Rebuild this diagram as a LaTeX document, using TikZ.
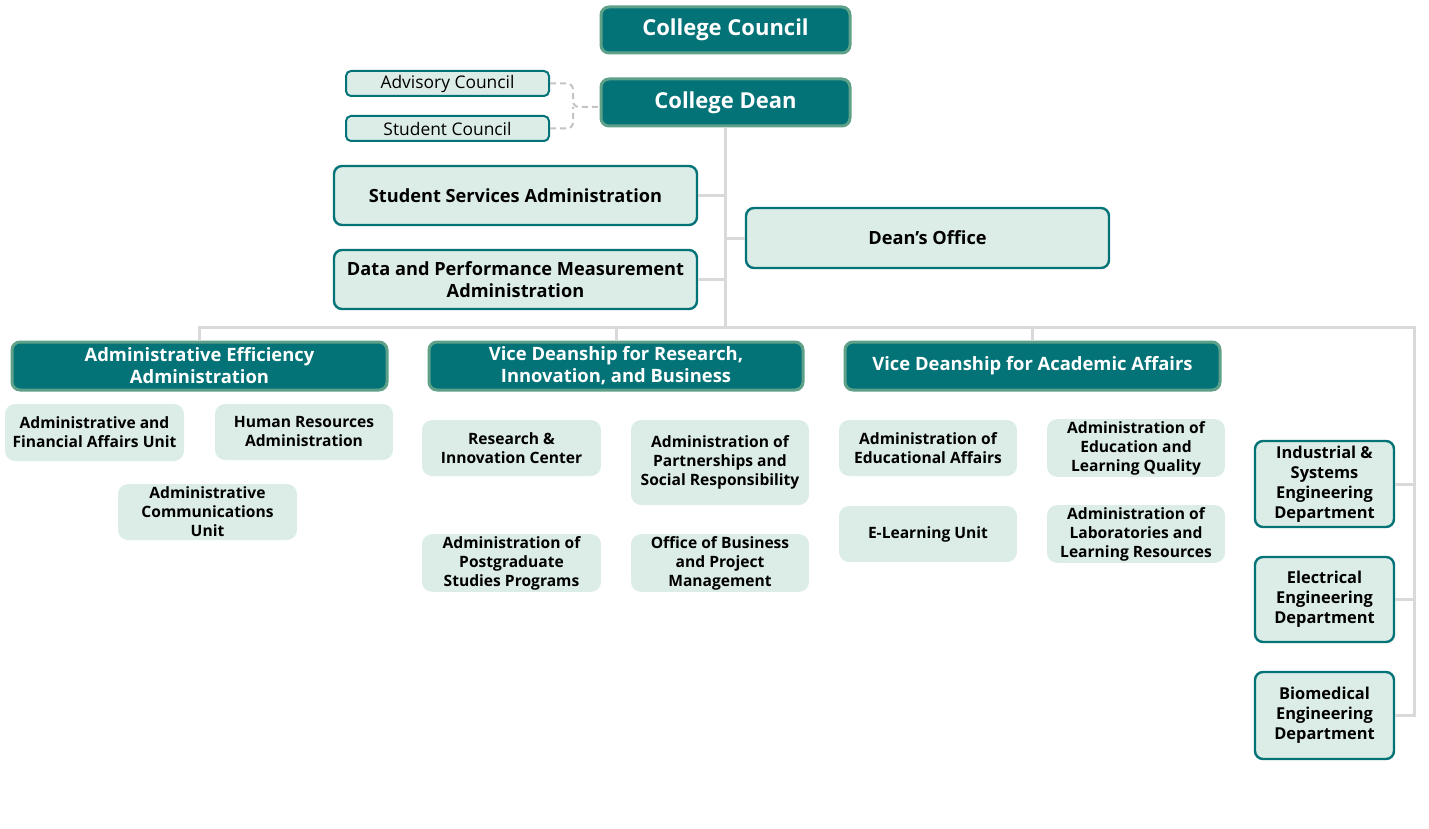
\documentclass[tikz,border=0pt]{standalone}
\usepackage{fontspec}
\setmainfont{Open Sans}
\usepackage{tikz}
\usetikzlibrary{calc}
\usepackage{xcolor}
\definecolor{tealdark}{RGB}{3,115,120}
\definecolor{tealrim}{RGB}{94,160,136}
\definecolor{mintfill}{RGB}{220,237,231}
\definecolor{linkgray}{RGB}{217,217,217}

\begin{document}
\begin{tikzpicture}[x=0.5pt,y=-0.5pt,
  dark/.style={draw=tealrim,fill=tealdark,line width=1.5pt,rounded corners=4pt,text=white,align=center,inner sep=1pt},
  light/.style={draw=tealdark,fill=mintfill,line width=1.2pt,rounded corners=4pt,align=center,inner sep=1pt},
  unit/.style={fill=mintfill,rounded corners=5pt,align=center,inner sep=1pt,font=\bfseries\fontsize{7.8}{9.5}\selectfont},
  wh/.style 2 args={minimum width=#1*0.5pt,minimum height=#2*0.5pt},
  link/.style={draw=linkgray,line width=1.5pt},
  aux/.style={draw=linkgray!90!black,line width=1pt,dash pattern=on 3pt off 2pt,rounded corners=3pt}]
\useasboundingbox (0,0) rectangle (1429,829);
% Conselho e reitor
\node[dark,wh={249}{46},font=\bfseries\fontsize{11}{13}\selectfont] (council) at (725.5,30) {College Council};
\node[dark,wh={249}{47},font=\bfseries\fontsize{11}{13}\selectfont] (dean) at (725.5,102.5) {College Dean};
\node[light,wh={203}{25},line width=1pt,rounded corners=2.5pt,font=\fontsize{8.7}{10}\selectfont] (advisory) at (447.5,83.5) {Advisory Council};
\node[light,wh={203}{25},line width=1pt,rounded corners=2.5pt,font=\fontsize{8.7}{10}\selectfont] (students) at (447.5,128.5) {Student Council};
\coordinate (cj) at (573,107);
\draw[aux] (advisory.east) -| (cj) -- (cj -| dean.west);
\draw[aux] (students.east) -| (cj);
% Administracoes ligadas ao reitor
\node[light,wh={363}{59},font=\bfseries\fontsize{9.1}{11}\selectfont] (ssa) at (515.5,195.5) {Student Services Administration};
\node[light,wh={363}{59},font=\bfseries\fontsize{9.1}{11}\selectfont] (dpm) at (515.5,279.5) {Data and Performance Measurement\\Administration};
\node[light,wh={363}{60},font=\bfseries\fontsize{9.1}{11}\selectfont] (office) at (927.5,238) {Dean’s Office};
% Vice-reitorias
\node[dark,wh={375}{48},font=\bfseries\fontsize{9.2}{11}\selectfont] (aea) at (199.5,366) {Administrative Efficiency\\Administration};
\node[dark,wh={374}{48},font=\bfseries\fontsize{9.2}{11}\selectfont] (vdr) at (616,366) {Vice Deanship for Research,\\Innovation, and Business};
\node[dark,wh={375}{48},font=\bfseries\fontsize{9.2}{11}\selectfont] (vda) at (1032.5,366) {Vice Deanship for Academic Affairs};
% Unidades
\node[unit,wh={179}{57}] (afa) at (94.5,432.5) {Administrative and\\Financial Affairs Unit};
\node[unit,wh={178}{56}] (hra) at (304,432) {Human Resources\\Administration};
\node[unit,wh={179}{56}] (acu) at (207.5,512) {Administrative\\Communications\\Unit};
\node[unit,wh={179}{56}] (ric) at (511.5,448) {Research \&\\Innovation Center};
\node[unit,wh={178}{85}] (aps) at (720,462.5) {Administration of\\Partnerships and\\Social Responsibility};
\node[unit,wh={179}{56}] (pgs) at (511.5,563) {Administration of\\Postgraduate\\Studies Programs};
\node[unit,wh={178}{56}] (obp) at (720,563) {Office of Business\\and Project\\Management};
\node[unit,wh={178}{56}] (eda) at (928,448) {Administration of\\Educational Affairs};
\node[unit,wh={178}{56}] (elq) at (1136,448) {Administration of\\Education and\\Learning Quality};
\node[unit,wh={178}{56}] (elu) at (928,534) {E-Learning Unit};
\node[unit,wh={178}{56}] (alr) at (1136,534) {Administration of\\Laboratories and\\Learning Resources};
% Departamentos
\node[light,wh={139}{86},font=\bfseries\fontsize{8.2}{10}\selectfont] (ise) at (1324.5,484) {Industrial \&\\Systems\\Engineering\\Department};
\node[light,wh={139}{85},font=\bfseries\fontsize{8.2}{10}\selectfont] (ele) at (1324.5,599.5) {Electrical\\Engineering\\Department};
\node[light,wh={139}{87},font=\bfseries\fontsize{8.2}{10}\selectfont] (bme) at (1324.5,715.5) {Biomedical\\Engineering\\Department};
% Ligacoes
\coordinate (busR) at (1414,327);
\draw[link] (dean.south) -- (dean.south |- busR);
\draw[link] (ssa.east) -- (ssa.east -| dean.south);
\draw[link] (dpm.east) -- (dpm.east -| dean.south);
\draw[link] (office.west) -- (office.west -| dean.south);
\draw[link] (aea.north) |- (busR) |- (bme.east);
\draw[link] (vdr.north) -- (vdr.north |- busR);
\draw[link] (vda.north) -- (vda.north |- busR);
\draw[link] (ise.east) -- (ise.east -| busR);
\draw[link] (ele.east) -- (ele.east -| busR);
\end{tikzpicture}
\end{document}
